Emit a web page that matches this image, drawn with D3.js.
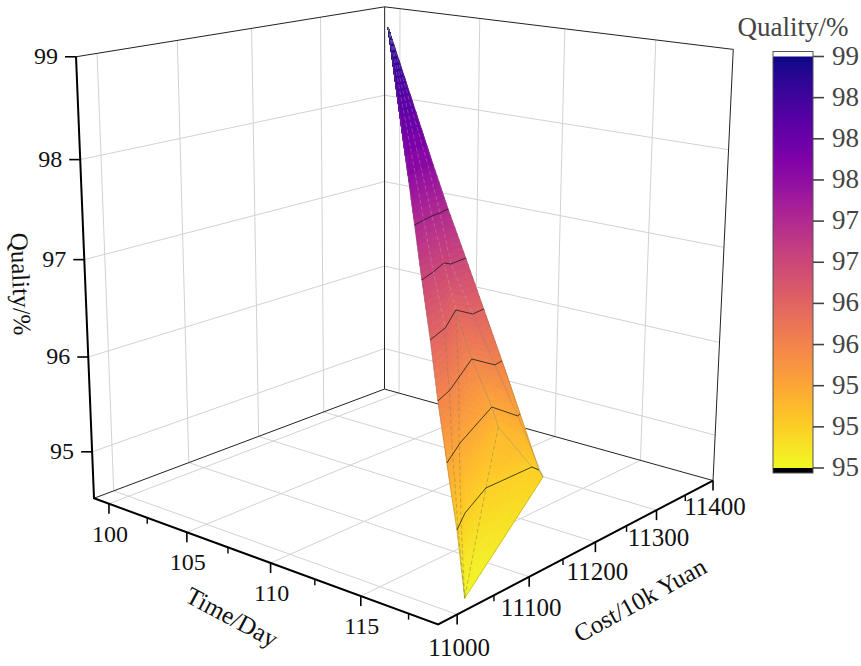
<!DOCTYPE html>
<html><head><meta charset="utf-8">
<script src="https://cdn.jsdelivr.net/npm/d3@7"></script>
<style>html,body{margin:0;background:#fff}svg{display:block}text{font-family:"Liberation Serif",serif}</style>
</head><body><svg id="c" width="861" height="666"></svg>
<script>
const timeTicks=[100,105,110,115], timeMinor=[102.5,107.5,112.5,117.5];
const costTicks=[11000,11100,11200,11300,11400], costMinor=[11050,11150,11250,11350];
const qualityTicks=[95,96,97,98,99];
const barTicks=[94.65,95.06,95.47,95.88,96.29,96.70,97.11,97.52,97.93,98.34,98.75];
const timeDomain=[99,119], costDomain=[10975,11400], qualityDomain=[94.5,99];
const rowTime=[
[98.70,98.70,98.70,98.70,98.70],
[105.63,105.20,105.00,104.97,104.87],
[107.18,106.90,106.69,106.60,106.39],
[109.19,108.72,108.12,108.48,108.34],
[111.44,110.82,109.44,110.42,110.31],
[113.46,112.94,110.99,112.30,112.19],
[115.34,114.27,112.49,114.08,113.99],
[116.22,115.24,112.94,114.63,114.72],
[117.37,116.51,115.46,115.46,115.91],
[119.18,119.18,119.18,117.78,116.00]];
const rowCost=[
[11413,11413,11413,11413,11413],
[11272,11293,11308,11320,11330],
[11243,11264,11282,11297,11315],
[11203,11232,11264,11265,11292],
[11158,11196,11248,11248,11268],
[11117,11148,11232,11232,11246],
[11081,11128,11223,11219,11225],
[11064,11105,11221,11212,11217],
[11042,11076,11134,11203,11201],
[11005,11005,11005,11097,11205]];
const rowQuality=[
[98.75,98.75,98.75,98.75,98.75],
[97.52,97.52,97.52,97.52,97.52],
[97.11,97.11,97.11,97.11,97.11],
[96.70,96.70,96.70,96.70,96.70],
[96.29,96.29,96.29,96.29,96.29],
[95.88,95.88,95.88,95.88,95.88],
[95.47,95.47,95.47,95.47,95.47],
[95.29,95.29,95.29,95.29,95.29],
[95.06,95.06,95.06,95.06,95.06],
[94.65,94.65,94.65,94.82,94.98]];
const contourRows=[2,3,4,5,6,8], faintContourRows=[1];
// extra mesh lines on the sheet: [row, column, fraction towards next column]
const meshLineX=[[4,0,.93],[5,0,.93],[6,0,.42],[7,0,.36],[8,0,.12],[9,0,0]];
const meshLineY=[[4,2,0],[5,1,.38],[6,0,.92],[7,0,.82],[8,0,.5],[9,0,0]];

const xS=d3.scaleLinear(timeDomain,[0,1]),yS=d3.scaleLinear(costDomain,[0,1]),zS=d3.scaleLinear(qualityDomain,[0,1]);
// camera: perspective matrix fitted to the box corners and ticks of the frame
const fit=[[0,0,0,94,498],[1,0,0,438,625],[1,1,0,713,481],[0,1,0,384,389],[0,0,1,76,57],[0,1,1,384,6.5],[1,1,1,733,49],[1,1,1,733,49],[1,1,1,733,49],
[xS(100),0,0,109,503.5],[xS(115),0,0,361,596],[1,yS(11000),0,457,614],[1,yS(11200),0,596,542],
[xS(100),1,1,401,11],[xS(110),1,1,565,30],[xS(115),1,1,656,40],[0,yS(11000),1,96,54],[0,yS(11300),1,321,14],
[0,0,zS(95),92,452],[0,0,zS(98),81,160]];
function solve(A,b){const n=b.length;A=A.map((r,i)=>[...r,b[i]]);for(let i=0;i<n;i++){let m=i;for(let k=i+1;k<n;k++)if(Math.abs(A[k][i])>Math.abs(A[m][i]))m=k;[A[i],A[m]]=[A[m],A[i]];for(let k=0;k<n;k++){if(k==i)continue;const f=A[k][i]/A[i][i];for(let j=i;j<=n;j++)A[k][j]-=f*A[i][j];}}return A.map((r,i)=>r[n]/r[i]);}
const eq=[];const rhs=[];fit.forEach(([a,b,c,u,v])=>{eq.push([a,b,c,1,0,0,0,0,-u*a,-u*b,-u*c]);rhs.push(u);eq.push([0,0,0,0,a,b,c,1,-v*a,-v*b,-v*c]);rhs.push(v);});
const NA=d3.range(11).map(i=>d3.range(11).map(j=>d3.sum(eq,r=>r[i]*r[j])));const Nb=d3.range(11).map(i=>d3.sum(eq,(r,k)=>r[i]*rhs[k]));
const P=solve(NA,Nb);
function proj(a,b,c){const w=P[8]*a+P[9]*b+P[10]*c+1;return[(P[0]*a+P[1]*b+P[2]*c+P[3])/w,(P[4]*a+P[5]*b+P[6]*c+P[7])/w];}
const project=(t,c,q)=>proj(xS(t),yS(c),zS(q));

const svg=d3.select('#c');
const color=d3.scaleSequential(d3.interpolatePlasma).domain([barTicks[10],barTicks[0]]);
const line=d3.line();
const seg=(g,pts,st,w,dash)=>g.append('path').attr('d',line(pts)).attr('fill','none').attr('stroke',st).attr('stroke-width',w).attr('stroke-dasharray',dash||null);
const tMin=timeDomain[0],tMax=timeDomain[1],cMin=costDomain[0],cMax=costDomain[1],qMin=qualityDomain[0],qMax=qualityDomain[1];
const grid=svg.append('g');const G='#d2d2d2';
costTicks.filter(c=>c<cMax).forEach(c=>{seg(grid,[project(tMin,c,qMin),project(tMin,c,qMax)],G,1);seg(grid,[project(tMin,c,qMin),project(tMax,c,qMin)],G,1);});
timeTicks.forEach(t=>{seg(grid,[project(t,cMax,qMin),project(t,cMax,qMax)],G,1);seg(grid,[project(t,cMin,qMin),project(t,cMax,qMin)],G,1);});
qualityTicks.filter(q=>q<qMax).forEach(q=>{seg(grid,[project(tMin,cMin,q),project(tMin,cMax,q)],G,1);seg(grid,[project(tMin,cMax,q),project(tMax,cMax,q)],G,1);});
seg(grid,[project(tMin,cMin,qMax),project(tMin,cMax,qMax),project(tMax,cMax,qMax),project(tMax,cMax,qMin),project(tMin,cMax,qMin),project(tMin,cMin,qMin)],'#222',1);
seg(grid,[project(tMin,cMax,qMin),project(tMin,cMax,qMax)],'#222',1);
// surface
const surf=svg.append('g');const N=8;
function tri(a,b,c){for(let i=0;i<N;i++)for(let j=0;j<N-i;j++){
 const mk=(l,m)=>{const n=N-l-m;return[(a[0]*l+b[0]*m+c[0]*n)/N,(a[1]*l+b[1]*m+c[1]*n)/N,(a[2]*l+b[2]*m+c[2]*n)/N];};
 const cell=[[mk(i,j),mk(i+1,j),mk(i,j+1)]];if(i+j<N-1)cell.push([mk(i+1,j),mk(i+1,j+1),mk(i,j+1)]);
 cell.forEach(t=>{const col=color((t[0][2]+t[1][2]+t[2][2])/3);surf.append('path').attr('d',line(t.map(p=>project(p[0],p[1],p[2])))+'Z').attr('fill',col).attr('stroke',col).attr('stroke-width',.7);});}}
const V=(i,j)=>[rowTime[i][j],rowCost[i][j],rowQuality[i][j]];
for(let i=0;i<rowTime.length-1;i++)for(let j=0;j<4;j++){tri(V(i,j),V(i+1,j),V(i,j+1));tri(V(i,j+1),V(i+1,j),V(i+1,j+1));}
const VP=(i,j)=>project(rowTime[i][j],rowCost[i][j],rowQuality[i][j]);
const rowPts=i=>d3.range(5).map(j=>VP(i,j));
const ribPts=(j,a,b)=>d3.range(a,b+1).map(i=>VP(i,j));
const onRow=([i,j,f])=>{if(!f)return VP(i,j);const k=j+1;return project(rowTime[i][j]+f*(rowTime[i][k]-rowTime[i][j]),rowCost[i][j]+f*(rowCost[i][k]-rowCost[i][j]),rowQuality[i][j]+f*(rowQuality[i][k]-rowQuality[i][j]));};
const mesh=svg.append('g');
const SOFT='rgba(130,130,130,.45)',DASH='rgba(130,125,90,.6)',UP='rgba(200,190,215,.4)';
[1,2,3].forEach(j=>seg(mesh,ribPts(j,0,4),UP,.8,'4 2.5'));
seg(mesh,meshLineX.map(onRow),DASH,.8,'4 2.5');
seg(mesh,meshLineY.map(onRow),DASH,.8,'4 2.5');
seg(mesh,ribPts(2,4,7),SOFT,.8);
seg(mesh,ribPts(2,7,9),DASH,.8,'4 2.5');
seg(mesh,[...ribPts(3,4,6),VP(9,4)],SOFT,.8);
seg(mesh,[VP(7,2),VP(8,3),VP(8,4),VP(9,4)],SOFT,.8);
[0,4].forEach(j=>seg(mesh,ribPts(j,0,9),'rgba(120,110,90,.5)',.6));
seg(mesh,[VP(9,0),VP(9,4)],'rgba(120,110,60,.5)',.6);
faintContourRows.forEach(i=>seg(mesh,rowPts(i),'rgba(0,0,0,.12)',1));
contourRows.forEach(i=>seg(mesh,rowPts(i),'rgba(20,20,20,.75)',1));
// axes
const ax=svg.append('g');
seg(ax,[project(tMin,cMin,qMax),project(tMin,cMin,qMin),project(tMax,cMin,qMin),project(tMax,cMax,qMin)],'#000',2);
const lab=(x,y,s,fs,anchor,col)=>svg.append('text').attr('x',x).attr('y',y).attr('font-size',fs).attr('text-anchor',anchor||'middle').attr('dominant-baseline','central').attr('fill',col||'#111').text(s);
timeTicks.forEach(t=>{const p=project(t,cMin,qMin);seg(ax,[p,[p[0],p[1]+10]],'#000',1.6);lab(p[0]+1,p[1]+30,t,24);});
timeMinor.forEach(t=>{const p=project(t,cMin,qMin);seg(ax,[p,[p[0],p[1]+6]],'#000',1.4);});
costTicks.forEach(c=>{const p=project(tMax,c,qMin);seg(ax,[p,[p[0],p[1]+10]],'#000',1.6);lab(p[0]+2,p[1]+33-7*yS(c),c,25);});
costMinor.forEach(c=>{const p=project(tMax,c,qMin);seg(ax,[p,[p[0],p[1]+6]],'#000',1.4);});
qualityTicks.forEach(q=>{const p=project(tMin,cMin,q);seg(ax,[p,[p[0]-11,p[1]]],'#000',1.6);lab(p[0]-18,p[1]-1,q,24,'end');});
const rot=(x,y,r,s,fs,col)=>lab(x,y,s,fs,'middle',col).attr('transform',`rotate(${r} ${x} ${y})`);
rot(21,284,88,'Quality/%',25);rot(232,617,28,'Time/Day',25);rot(640,600,-29,'Cost/10k Yuan',25);
// colour bar
const barY=d3.scaleLinear([barTicks[0],barTicks[10]],[468,56.5]);const bar=svg.append('g');
const gr=svg.append('defs').append('linearGradient').attr('id','bg').attr('x1',0).attr('x2',0).attr('y1',1).attr('y2',0);
d3.range(0,1.001,.05).forEach(f=>gr.append('stop').attr('offset',f).attr('stop-color',color(barTicks[0]+f*(barTicks[10]-barTicks[0]))));
const bx=773,bw=40;
bar.append('rect').attr('x',bx).attr('y',barY(barTicks[10])-5).attr('width',bw).attr('height',5).attr('fill','#fff');
bar.append('rect').attr('x',bx).attr('y',barY(barTicks[10])).attr('width',bw).attr('height',barY(barTicks[0])-barY(barTicks[10])).attr('fill','url(#bg)');
bar.append('rect').attr('x',bx).attr('y',barY(barTicks[0])).attr('width',bw).attr('height',5).attr('fill','#000');
bar.append('rect').attr('x',bx).attr('y',barY(barTicks[10])-5).attr('width',bw).attr('height',barY(barTicks[0])-barY(barTicks[10])+10).attr('fill','none').attr('stroke','#555').attr('stroke-width',1);
barTicks.forEach(v=>{const y=barY(v);seg(bar,[[bx+bw,y],[bx+bw+11,y]],'#444',1.6);lab(832,y-1,d3.format('.0f')(v),27,'start','#444');});
lab(793,27,'Quality/%',27,'middle','#444');
</script></body></html>
